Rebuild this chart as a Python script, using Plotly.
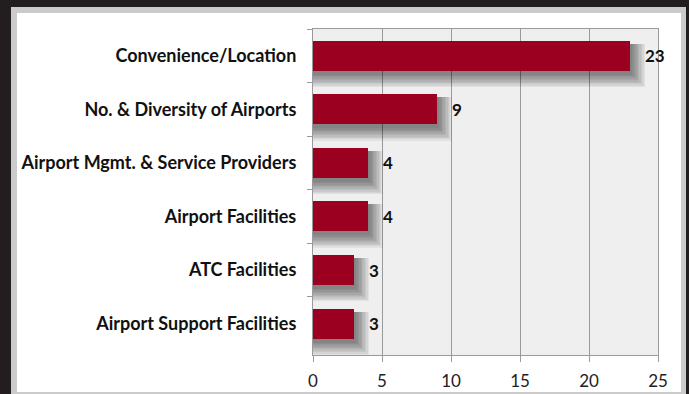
import plotly.graph_objects as go

categories = ["Convenience/Location", "No. & Diversity of Airports",
              "Airport Mgmt. & Service Providers", "Airport Facilities",
              "ATC Facilities", "Airport Support Facilities"]
values = [23, 9, 4, 4, 3, 3]
x_ticks = [0, 5, 10, 15, 20, 25]

W, H = 689, 394
ML, MR, MT, MB = 313, 31, 29, 39
PW, PH = W - ML - MR, H - MT - MB
px_per_unit = PW / 25.0
px_per_cat = PH / len(categories)

def px_x(p):
    return (p - ML) / PW

def px_y(p):
    return (H - MB - p) / PH

fig = go.Figure()

bar_w = 0.56
# soft drop shadow layers (grow to the right and downward only)
n_layers = 10
for i in range(n_layers):
    r = 1.4 * i
    top_px = 3.0
    fig.add_trace(go.Bar(
        y=categories,
        x=[v + (2 + r) / px_per_unit for v in values],
        orientation="h",
        width=bar_w + (r + 1) / px_per_cat,
        offset=-(bar_w / 2) + top_px / px_per_cat,
        marker=dict(color="rgba(0,0,0,0.055)", line=dict(width=0)),
        hoverinfo="skip", showlegend=False,
    ))

fig.add_trace(go.Bar(
    y=categories, x=values, orientation="h", width=bar_w,
    marker=dict(color="#9c0020", line=dict(width=0)),
    showlegend=False,
))

for c, v in zip(categories, values):
    fig.add_annotation(x=v, y=c, text=f"<b>{v}</b>", showarrow=False,
                       xanchor="left", xshift=13,
                       font=dict(family="Lato", size=17, color="#111"))

shapes = [
    dict(type="rect", xref="paper", yref="paper", layer="below",
         x0=px_x(11), x1=px_x(686), y0=px_y(7), y1=px_y(400),
         fillcolor="#cbcbcb", line=dict(width=0)),
    dict(type="rect", xref="paper", yref="paper", layer="below",
         x0=px_x(17), x1=px_x(681), y0=px_y(13), y1=px_y(392),
         fillcolor="#ffffff", line=dict(width=0)),
    dict(type="rect", xref="paper", yref="paper", layer="below",
         x0=0, x1=1, y0=0, y1=1,
         fillcolor="#efefef", line=dict(width=0)),
]

fig.update_layout(
    width=W, height=H,
    margin=dict(l=ML, r=MR, t=MT, b=MB, pad=0),
    paper_bgcolor="#221e1f", plot_bgcolor="#efefef",
    barmode="overlay", bargap=0,
    shapes=shapes,
    font=dict(family="Lato"),
    xaxis=dict(range=[0, 25], tickvals=x_ticks, showgrid=True,
               gridcolor="#9a9a9a", gridwidth=1.2,
               showline=True, linecolor="#9a9a9a", linewidth=1.2, mirror=True,
               ticks="outside", ticklen=6, tickcolor="#9a9a9a",
               tickfont=dict(family="Lato", size=17, color="#222"),
               ticklabelstandoff=4, automargin=False,
               zeroline=False, fixedrange=True),
    yaxis=dict(categoryorder="array", categoryarray=categories,
               autorange="reversed", tickson="boundaries",
               showline=True, linecolor="#9a9a9a", linewidth=1.2, mirror=True,
               ticks="outside", ticklen=5, tickcolor="#9a9a9a",
               tickfont=dict(family="Lato", size=18, color="#111", weight="bold"),
               ticklabelstandoff=12, automargin=False,
               showgrid=False, fixedrange=True),
)

fig.write_html("out.html")
